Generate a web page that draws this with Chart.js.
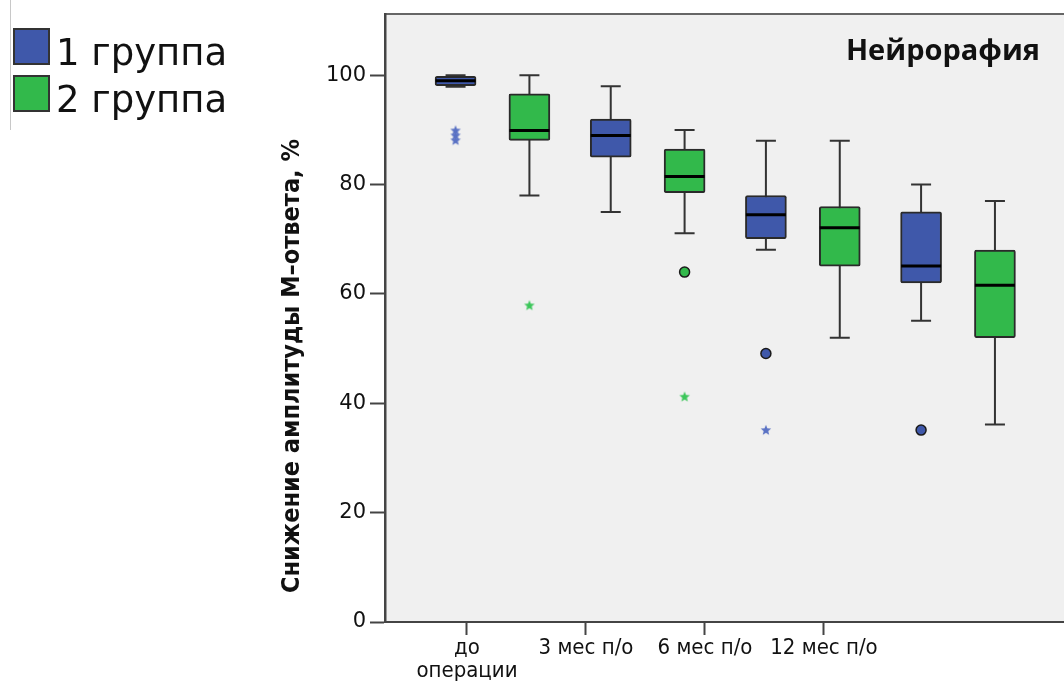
<!DOCTYPE html>
<html>
<head>
<meta charset="utf-8">
<script src="https://cdn.jsdelivr.net/npm/chart.js@4.4.1/dist/chart.umd.min.js"></script>
<style>
  html, body { margin: 0; padding: 0; background: #fff; }
  canvas { display: block; }
</style>
</head>
<body>
<canvas id="chart" width="1064" height="684"></canvas>
<script>
// данные
const categories = ['до операции', '3 мес п/о', '6 мес п/о', '12 мес п/о'];
const xTickLabels = [['до', 'операции'], '3 мес п/о', '6 мес п/о', '12 мес п/о'];
const groupNames = ['1 группа', '2 группа'];

const g1Min = [97.9, 75.0, 68.1, 55.1];
const g1Q1  = [98.1, 85.0, 70.1, 62.0];
const g1Med = [99.0, 89.0, 74.5, 65.1];
const g1Q3  = [99.8, 92.0, 78.0, 75.0];
const g1Max = [100.0, 98.0, 88.0, 80.0];

const g2Min = [78.0, 71.1, 52.0, 36.1];
const g2Q1  = [88.1, 78.5, 65.1, 52.0];
const g2Med = [89.9, 81.5, 72.1, 61.6];
const g2Q3  = [96.6, 86.5, 76.0, 68.0];
const g2Max = [100.0, 90.0, 88.0, 77.0];

// [категория, значение]
const g1Outliers = [[2, 49.1], [3, 35.1]];
const g1Extremes = [[0, 89.9], [0, 89.0], [0, 88.1], [2, 35.1]];
const g2Outliers = [[1, 64.0]];
const g2Extremes = [[0, 57.9], [1, 41.2]];

const yTicks = [0, 20, 40, 60, 80, 100];

const BLUE = '#3f58aa';
const GREEN = '#32b94b';
const OFF = 0.238; // сдвиг групп внутри категории

function makeStar(color) {
  const c = document.createElement('canvas');
  c.width = 12; c.height = 12;
  const g = c.getContext('2d');
  g.fillStyle = color;
  g.beginPath();
  for (let i = 0; i < 10; i++) {
    const r = i % 2 === 0 ? 5.5 : 2.4;
    const a = -Math.PI / 2 + i * Math.PI / 5;
    const px = 6 + r * Math.cos(a), py = 6.3 + r * Math.sin(a);
    if (i === 0) g.moveTo(px, py); else g.lineTo(px, py);
  }
  g.closePath();
  g.fill();
  return c;
}

const groups = [
  { min: g1Min, q1: g1Q1, med: g1Med, q3: g1Q3, max: g1Max, off: -OFF },
  { min: g2Min, q1: g2Q1, med: g2Med, q3: g2Q3, max: g2Max, off: OFF }
];

const boxPlugin = {
  id: 'boxParts',
  beforeDraw(chart) {
    const { ctx, chartArea: a } = chart;
    ctx.save();
    ctx.fillStyle = '#f0f0f0';
    ctx.fillRect(a.left, a.top, a.right - a.left, a.bottom - a.top);
    ctx.strokeStyle = '#666';
    ctx.lineWidth = 2;
    ctx.beginPath();
    ctx.moveTo(a.left, a.top);
    ctx.lineTo(a.right, a.top);
    ctx.stroke();
    ctx.restore();
  },
  beforeDatasetsDraw(chart) {
    const { ctx } = chart;
    const xs = chart.scales.x, ys = chart.scales.y;
    ctx.save();
    ctx.strokeStyle = '#333';
    ctx.lineWidth = 2;
    groups.forEach(g => {
      categories.forEach((c, i) => {
        const x = xs.getPixelForValue(i + g.off);
        const yMin = ys.getPixelForValue(g.min[i]);
        const yMax = ys.getPixelForValue(g.max[i]);
        ctx.beginPath();
        ctx.moveTo(x, yMin); ctx.lineTo(x, yMax);
        ctx.moveTo(x - 10, yMin); ctx.lineTo(x + 10, yMin);
        ctx.moveTo(x - 10, yMax); ctx.lineTo(x + 10, yMax);
        ctx.stroke();
      });
    });
    ctx.restore();
  },
  afterDatasetsDraw(chart) {
    const { ctx } = chart;
    const xs = chart.scales.x, ys = chart.scales.y;
    ctx.save();
    ctx.strokeStyle = '#000';
    ctx.lineWidth = 3;
    groups.forEach(g => {
      categories.forEach((c, i) => {
        const x = xs.getPixelForValue(i + g.off);
        const y = ys.getPixelForValue(g.med[i]);
        ctx.beginPath();
        ctx.moveTo(x - 20, y); ctx.lineTo(x + 20, y);
        ctx.stroke();
      });
    });
    ctx.restore();
  },
  afterDraw(chart) {
    const { ctx } = chart;
    ctx.save();
    // заголовок внутри поля
    ctx.fillStyle = '#111';
    ctx.font = 'bold 29px "Open Sans"';
    ctx.textAlign = 'right';
    ctx.textBaseline = 'alphabetic';
    ctx.fillText('Нейрорафия', 1040, 60);
    // подпись оси Y
    ctx.translate(292, 366);
    ctx.rotate(-Math.PI / 2);
    ctx.font = 'bold 25px "DejaVu Sans Condensed", "DejaVu Sans"';
    ctx.textAlign = 'center';
    ctx.textBaseline = 'middle';
    ctx.fillText('Снижение амплитуды М–ответа, %', 0, 0);
    ctx.restore();

    // легенда
    ctx.save();
    ctx.strokeStyle = '#c8c8c8';
    ctx.lineWidth = 1;
    ctx.beginPath();
    ctx.moveTo(10.5, 0); ctx.lineTo(10.5, 130);
    ctx.stroke();
    [BLUE, GREEN].forEach((col, k) => {
      const top = 29 + k * 47;
      ctx.fillStyle = col;
      ctx.fillRect(14, top, 35, 35);
      ctx.strokeStyle = '#333';
      ctx.lineWidth = 2;
      ctx.strokeRect(14, top, 35, 35);
      ctx.fillStyle = '#111';
      ctx.font = '37px "DejaVu Sans"';
      ctx.textAlign = 'left';
      ctx.textBaseline = 'alphabetic';
      ctx.fillText(groupNames[k], 56, top + 36);
    });
    ctx.restore();
  }
};

const boxData = (g) => categories.map((c, i) => ({ x: i + g.off, y: [g.q1[i], g.q3[i]] }));
const ptData = (list, off) => list.map(p => ({ x: p[0] + off, y: p[1] }));

const boxStyle = {
  borderColor: '#2a2a2a',
  borderWidth: 2,
  borderSkipped: false,
  borderRadius: 2,
  barThickness: 41,
  grouped: false,
  xAxisID: 'x', yAxisID: 'y'
};

new Chart(document.getElementById('chart'), {
  type: 'bar',
  data: {
    datasets: [
      Object.assign({ label: groupNames[0], data: boxData(groups[0]), backgroundColor: BLUE }, boxStyle),
      Object.assign({ label: groupNames[1], data: boxData(groups[1]), backgroundColor: GREEN }, boxStyle),
      {
        type: 'scatter',
        data: ptData(g1Outliers, -OFF),
        pointStyle: 'circle',
        pointRadius: 5,
        backgroundColor: BLUE,
        borderColor: '#1a1a1a',
        borderWidth: 1.5,
        xAxisID: 'x', yAxisID: 'y'
      },
      {
        type: 'scatter',
        data: ptData(g2Outliers, OFF),
        pointStyle: 'circle',
        pointRadius: 5,
        backgroundColor: GREEN,
        borderColor: '#1a1a1a',
        borderWidth: 1.5,
        xAxisID: 'x', yAxisID: 'y'
      },
      {
        type: 'scatter',
        data: ptData(g1Extremes, -OFF),
        pointStyle: makeStar('#5a72c4'),
        xAxisID: 'x', yAxisID: 'y'
      },
      {
        type: 'scatter',
        data: ptData(g2Extremes, OFF),
        pointStyle: makeStar('#3cc65a'),
        xAxisID: 'x', yAxisID: 'y'
      }
    ]
  },
  options: {
    responsive: false,
    animation: false,
    layout: { autoPadding: false, padding: { left: 270, top: 14, right: 0, bottom: 0 } },
    plugins: {
      legend: { display: false },
      tooltip: { enabled: false }
    },
    scales: {
      x: {
        type: 'linear',
        display: false,
        offset: false,
        min: -0.6927,
        max: 3.683
      },
      xt: {
        type: 'linear',
        position: 'bottom',
        offset: false,
        min: -0.689,
        max: 5.017,
        afterBuildTicks: (s) => { s.ticks = categories.map((c, i) => ({ value: i })); },
        afterFit: (s) => { s.height = 62; s.paddingRight = 0; s.paddingLeft = 0; },
        grid: { offset: false, drawOnChartArea: false, drawTicks: true, tickLength: 13, tickColor: '#444', tickWidth: 2 },
        border: { display: true, color: '#444', width: 2 },
        ticks: {
          padding: 2,
          color: '#111',
          autoSkip: false,
          maxRotation: 0,
          font: { family: '"DejaVu Sans Condensed", "DejaVu Sans"', size: 22, lineHeight: 1.05 },
          callback: (v) => xTickLabels[v]
        }
      },
      y: {
        min: 0,
        max: 111.2,
        afterBuildTicks: (s) => { s.ticks = yTicks.map(v => ({ value: v })); },
        afterFit: (s) => { s.width = 115; s.paddingTop = 0; s.paddingBottom = 0; },
        grid: { drawOnChartArea: false, drawTicks: true, tickLength: 15, tickColor: '#444', tickWidth: 2 },
        border: { display: true, color: '#444', width: 2.5 },
        ticks: {
          padding: 4,
          color: '#111',
          font: { family: '"DejaVu Sans"', size: 21 }
        }
      }
    }
  },
  plugins: [boxPlugin]
});
</script>
</body>
</html>
